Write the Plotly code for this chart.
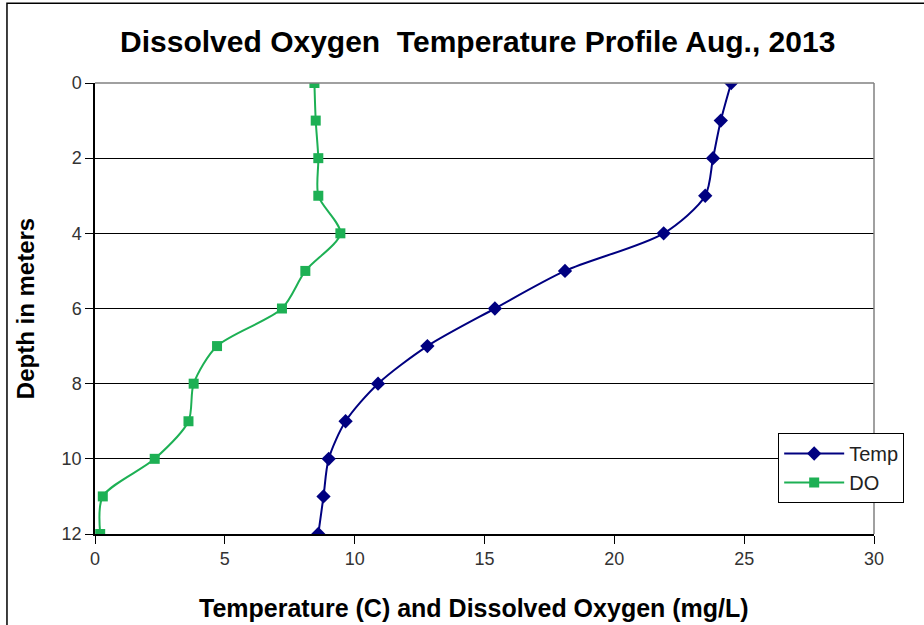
import plotly.graph_objects as go

depth = [0, 1, 2, 3, 4, 5, 6, 7, 8, 9, 10, 11, 12]
temp = [24.5, 24.1, 23.8, 23.5, 21.9, 18.1, 15.4, 12.8, 10.9, 9.65, 9.0, 8.8, 8.6]
do_vals = [8.45, 8.5, 8.6, 8.6, 9.45, 8.1, 7.2, 4.7, 3.8, 3.6, 2.3, 0.3, 0.2]
x_ticks = [0, 5, 10, 15, 20, 25, 30]
y_ticks = [0, 2, 4, 6, 8, 10, 12]

FONT = "Liberation Sans, Arial, sans-serif"

fig = go.Figure()
fig.add_trace(go.Scatter(
    x=temp, y=depth, name="Temp", mode="lines+markers",
    line=dict(color="#000080", width=2, shape="spline", smoothing=0.8),
    marker=dict(symbol="diamond", size=11, color="#000080"),
))
fig.add_trace(go.Scatter(
    x=do_vals, y=depth, name="DO", mode="lines+markers",
    line=dict(color="#1DB054", width=2, shape="spline", smoothing=0.8),
    marker=dict(symbol="square", size=10, color="#1DB054"),
))

fig.update_layout(
    width=924, height=625,
    margin=dict(l=95, r=50, t=83, b=91),
    paper_bgcolor="white", plot_bgcolor="white",
    font=dict(family=FONT, color="#222222", size=18),
    title=dict(text="<b>Dissolved Oxygen  Temperature Profile Aug., 2013</b>",
               x=0.517, xanchor="center", y=0.933, yanchor="middle",
               font=dict(family=FONT, size=30, color="black")),
    showlegend=True,
    legend=dict(x=0.877, y=0.224, xanchor="left", yanchor="top",
                bordercolor="black", borderwidth=1, bgcolor="white",
                font=dict(family=FONT, size=20, color="#222222"),
                tracegroupgap=0, itemwidth=60),
    xaxis=dict(range=[0, 30], tickvals=x_ticks, showgrid=False, zeroline=False,
               automargin=False,
               showline=True, linecolor="black", linewidth=1.5, mirror=False,
               ticks="outside", ticklen=8, tickcolor="black",
               tickfont=dict(size=18, color="#333333")),
    yaxis=dict(range=[12, 0], tickvals=y_ticks, showgrid=True, gridcolor="black",
               gridwidth=1, zeroline=False, automargin=False,
               showline=True, linecolor="black", linewidth=1.5,
               ticks="outside", ticklen=8, tickcolor="black",
               tickfont=dict(size=18, color="#333333"),
               title=dict(text="<b>Depth in meters</b>",
                          font=dict(family=FONT, size=24, color="black"), standoff=20)),
)

fig.add_annotation(text="<b>Temperature (C) and Dissolved Oxygen (mg/L)</b>",
                   xref="paper", yref="paper", x=0.4865, y=-0.164,
                   xanchor="center", yanchor="middle", showarrow=False,
                   font=dict(family=FONT, size=25, color="black"))

# plot area frame (top/right gray)
fig.add_shape(type="line", xref="paper", yref="paper", x0=0, x1=1, y0=1, y1=1,
              line=dict(color="#808080", width=1.5))
fig.add_shape(type="line", xref="paper", yref="paper", x0=1, x1=1, y0=0, y1=1,
              line=dict(color="#808080", width=1.5))
# outer chart border (left and top visible)
fig.add_shape(type="rect", xref="paper", yref="paper", x0=-0.113, x1=1.08,
              y0=-0.25, y1=1.177, line=dict(color="black", width=1.5), layer="below")

fig.write_html("out.html", config={"displayModeBar": False},
               post_script="document.body.style.margin='0px';")
